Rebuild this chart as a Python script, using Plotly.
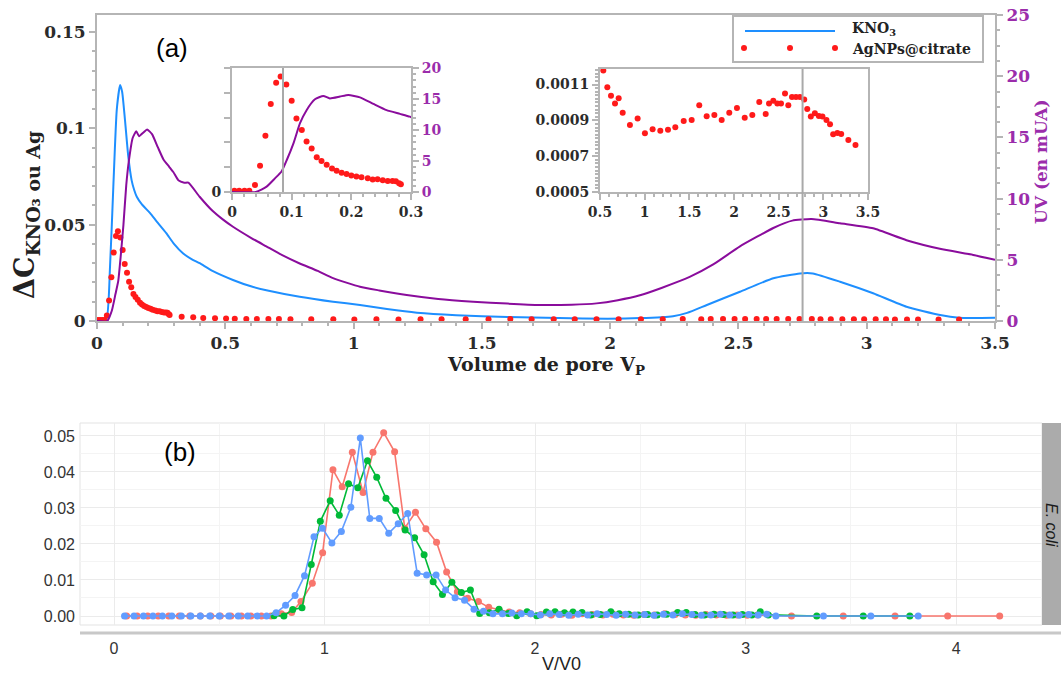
import plotly.graph_objects as go

# ---------------- panel (a): breakthrough curves ----------------
# KNO3 tracer, delta C vs pore volume
kno3_vp = [0, 0.035, 0.0507, 0.0636, 0.077, 0.090, 0.098, 0.109, 0.122, 0.135, 0.145,
           0.155, 0.175, 0.207, 0.233, 0.27, 0.30, 0.336, 0.37, 0.40, 0.45, 0.53, 0.60,
           0.66, 0.79, 0.92, 1.025, 1.13, 1.247, 1.40, 1.6, 1.8, 1.99, 2.116, 2.245,
           2.30, 2.377, 2.506, 2.636, 2.74, 2.79, 2.896, 3.025, 3.155, 3.286, 3.36, 3.5]
kno3_dc = [0, 0, 0.028, 0.0697, 0.1096, 0.1225, 0.119, 0.1044, 0.0853, 0.073, 0.068,
           0.0645, 0.0605, 0.056, 0.0516, 0.0456, 0.040, 0.035, 0.032, 0.030, 0.026,
           0.0213, 0.018, 0.016, 0.0126, 0.0100, 0.0083, 0.0062, 0.0043, 0.0030, 0.0021,
           0.0015, 0.0012, 0.0015, 0.0025, 0.0042, 0.0083, 0.0152, 0.0222, 0.0247,
           0.0247, 0.0204, 0.0144, 0.0074, 0.0031, 0.0017, 0.0017]

# UV absorbance (mUA)
uv_vp = [0, 0.04, 0.058, 0.072, 0.083, 0.092, 0.103, 0.114, 0.125, 0.139, 0.153, 0.164,
         0.181, 0.195, 0.2145, 0.237, 0.259, 0.2815, 0.298, 0.317, 0.34, 0.356, 0.40,
         0.45, 0.49, 0.53, 0.60, 0.66, 0.72, 0.79, 0.86, 0.92, 1.025, 1.10, 1.207, 1.33,
         1.466, 1.60, 1.726, 1.85, 1.947, 2.03, 2.116, 2.20, 2.31, 2.40, 2.506, 2.636,
         2.68, 2.71, 2.785, 2.896, 3.025, 3.155, 3.285, 3.415, 3.5]
uv_mua = [0, 0, 0.86, 2.2, 3.3, 5.2, 7.85, 11.1, 13.2, 14.95, 15.5, 15.1, 15.4, 15.65,
          15.27, 14.2, 13.2, 12.6, 12.15, 11.5, 11.3, 11.3, 10.15, 9.0, 8.3, 7.7, 6.8,
          6.1, 5.4, 4.7, 4.1, 3.5, 2.8, 2.5, 2.12, 1.8, 1.58, 1.42, 1.31, 1.33, 1.44,
          1.7, 2.1, 2.7, 3.6, 4.6, 6.1, 7.6, 8.0, 8.2, 8.33, 7.98, 7.57, 6.6, 5.9, 5.4,
          5.0]

# AgNPs@citrate, delta C vs pore volume
ag_vp = [0.004, 0.012, 0.021, 0.029, 0.0385, 0.047, 0.056, 0.065, 0.074, 0.0815, 0.091,
         0.100, 0.108, 0.117, 0.125, 0.1335, 0.142, 0.150, 0.1587, 0.1676, 0.1753,
         0.1837, 0.192, 0.200, 0.2085, 0.217, 0.2275, 0.2358, 0.244, 0.2526, 0.261,
         0.269, 0.2747, 0.280, 0.283, 0.33, 0.375, 0.414, 0.46, 0.503, 0.537, 0.582,
         0.623, 0.668, 0.709, 0.754, 0.835, 0.921, 1.003, 1.089, 1.175, 1.261, 1.343,
         1.437, 1.526, 1.611, 1.694, 1.780, 1.862, 1.947, 2.033, 2.12, 2.205, 2.283,
         2.355, 2.392, 2.44, 2.485, 2.526, 2.571, 2.608, 2.649, 2.694, 2.738, 2.786,
         2.82, 2.86, 2.905, 2.95, 2.99, 3.035, 3.075, 3.11, 3.157, 3.2, 3.28, 3.36]
ag_dc = [0.0005, 0.0005, 0.0005, 0.0005, 0.0028, 0.0106, 0.0227, 0.0355, 0.0441, 0.0466,
         0.0433, 0.0368, 0.0296, 0.0250, 0.0204, 0.0175, 0.0140, 0.0125, 0.0110, 0.0095,
         0.0086, 0.0078, 0.0073, 0.0067, 0.0063, 0.0059, 0.0055, 0.0050, 0.0051, 0.0047,
         0.0044, 0.0044, 0.0043, 0.0035, 0.0031, 0.0022, 0.0019, 0.0016, 0.0014, 0.0013,
         0.001178, 0.001085, 0.001038, 0.000995, 0.001023, 0.000943, 0.000874, 0.00091,
         0.000828, 0.00085, 0.000842, 0.000848, 0.000861, 0.000897, 0.000902, 0.000984,
         0.000923, 0.00093, 0.000902, 0.000943, 0.000969, 0.000915, 0.00093, 0.001003,
         0.000936, 0.000995, 0.00101, 0.000995, 0.000995, 0.00105, 0.000984, 0.00103,
         0.00103, 0.00103, 0.001016, 0.000964, 0.000921, 0.00094, 0.000925, 0.000921,
         0.000902, 0.000878, 0.000822, 0.00083, 0.000824, 0.00079, 0.000763]

marker_vp = 2.75        # vertical guide on the main panel
inset_marker_vp = 0.0855

# ---------------- panel (b): E. coli elution ----------------
red_x = [0.06, 0.11, 0.16, 0.21, 0.26, 0.31, 0.36, 0.41, 0.46, 0.505, 0.555, 0.605, 0.65,
         0.70, 0.746, 0.795, 0.844, 0.888, 0.942, 0.991, 1.04, 1.084, 1.132, 1.183, 1.23,
         1.281, 1.333, 1.381, 1.432, 1.481, 1.532, 1.58, 1.631, 1.68, 1.731, 1.78, 1.829,
         1.877, 1.927, 1.979, 2.028, 2.077, 2.126, 2.175, 2.224, 2.273, 2.322, 2.371,
         2.42, 2.469, 2.518, 2.567, 2.616, 2.665, 2.714, 2.763, 2.812, 2.861, 2.91,
         2.959, 3.008, 3.057, 3.218, 3.464, 3.71, 3.96, 4.207]
red_y = [0, 0, 0, 0, 0, 0, 0, 0, 0, 0, 0, 0, 0, 0, 0, 0.0006, 0.001, 0.004, 0.0091,
         0.0176, 0.0406, 0.0359, 0.0455, 0.0343, 0.0455, 0.0509, 0.0456, 0.0244, 0.0288,
         0.0242, 0.0205, 0.0122, 0.0067, 0.0049, 0.004, 0.0024, 0.0017, 0.0011, 0.0009,
         0.0006, 0.0004, 0.0003, 0.0005, 0.0002, 0.0006, 0.0004, 0.0003, 0.0005, 0.0003,
         0.0002, 0.0004, 0.0003, 0.0006, 0.0004, 0.0003, 0.0002, 0.0004, 0.0003, 0.0002,
         0.0003, 0.0002, 0.0003, 0, 0, 0, 0, 0]

green_x = [0.76, 0.807, 0.849, 0.893, 0.937, 0.98, 1.027, 1.07, 1.114, 1.158, 1.204,
           1.248, 1.292, 1.338, 1.383, 1.428, 1.473, 1.516, 1.56, 1.605, 1.65, 1.693,
           1.737, 1.783, 1.829, 1.873, 1.913, 1.962, 2.008, 2.054, 2.095, 2.14, 2.18,
           2.223, 2.265, 2.31, 2.36, 2.40, 2.445, 2.49, 2.535, 2.58, 2.625, 2.677, 2.718,
           2.76, 2.805, 2.85, 2.895, 2.94, 2.985, 3.03, 3.07, 3.108, 3.338, 3.559, 3.78]
green_y = [0.0001, 0, 0.0018, 0.0023, 0.0143, 0.0263, 0.032, 0.028, 0.0367, 0.0356,
           0.0431, 0.0385, 0.0327, 0.0293, 0.0239, 0.0217, 0.017, 0.0095, 0.006, 0.0094,
           0.0065, 0.0072, 0.0007, 0.0009, 0.0019, 0.0007, 0.0001, 0.0012, 0.0001, 0.0011,
           0.0012, 0.0009, 0.0011, 0.0010, 0.0003, 0.0004, 0.0012, 0.0006, 0.0005, 0.0003,
           0.0004, 0.0003, 0.0005, 0.0010, 0.0010, 0.0004, 0.0003, 0.0005, 0.0004, 0.0003,
           0.0004, 0.0003, 0.0012, 0.0003, 0, 0, 0]

blue_x = [0.05, 0.095, 0.14, 0.185, 0.23, 0.275, 0.32, 0.365, 0.41, 0.455, 0.50, 0.545,
          0.59, 0.635, 0.68, 0.725, 0.77, 0.815, 0.86, 0.905, 0.95, 0.99, 1.035, 1.08,
          1.125, 1.17, 1.215, 1.26, 1.305, 1.35, 1.395, 1.44, 1.485, 1.53, 1.575, 1.62,
          1.665, 1.71, 1.755, 1.80, 1.845, 1.89, 1.935, 1.98, 2.025, 2.07, 2.115, 2.16,
          2.205, 2.25, 2.295, 2.34, 2.385, 2.43, 2.475, 2.52, 2.565, 2.61, 2.655, 2.70,
          2.745, 2.79, 2.835, 2.88, 2.925, 2.97, 3.015, 3.06, 3.10, 3.144, 3.37, 3.595,
          3.82]
blue_y = [0, 0, 0, 0, 0, 0, 0, 0, 0, 0, 0, 0, 0, 0, 0, 0, 0.0009, 0.003, 0.0057, 0.0112,
          0.022, 0.0244, 0.0203, 0.0235, 0.0302, 0.0494, 0.0271, 0.0271, 0.023, 0.0256,
          0.0285, 0.0119, 0.0114, 0.0114, 0.0072, 0.0051, 0.0044, 0.0019, 0.0013, 0.0006,
          0.0006, 0.0008, 0.0006, 0.0006, 0.0003, 0.0006, 0.0004, 0.0002, 0.0005, 0.0003,
          0.0006, 0.0004, 0.0002, 0.0005, 0.0003, 0.0004, 0.0002, 0.0005, 0.0003, 0.0006,
          0.0004, 0.0002, 0.0003, 0.0005, 0.0003, 0.0002, 0.0004, 0.0003, 0.0005, 0, 0, 0,
          0]

# ---------------- styling ----------------
W, H = 1061, 678


def fx(p):
    return p / W


def fy(p):
    return 1 - p / H


BLUE = "#1e8fff"
PURPLE = "#8a0c9c"
PURPLE_TXT = "#9b2cab"
RED = "#ff1a1a"
GRAY = "#b5b5b5"
SERIF = "DejaVu Serif"
SANS = "Liberation Sans, Arial, sans-serif"

fig = go.Figure()

# main panel
fig.add_trace(go.Scatter(x=kno3_vp, y=kno3_dc, mode="lines", name="KNO3",
                         line=dict(color=BLUE, width=2, shape="spline", smoothing=0.5),
                         xaxis="x", yaxis="y", cliponaxis=False))
fig.add_trace(go.Scatter(x=ag_vp, y=ag_dc, mode="markers", name="AgNPs@citrate",
                         marker=dict(color=RED, size=6),
                         xaxis="x", yaxis="y", cliponaxis=False))
fig.add_trace(go.Scatter(x=uv_vp, y=uv_mua, mode="lines", name="UV",
                         line=dict(color=PURPLE, width=2, shape="spline", smoothing=0.5),
                         xaxis="x", yaxis="y2", cliponaxis=False))

# inset 1: early breakthrough
fig.add_trace(go.Scatter(x=uv_vp, y=uv_mua, mode="lines",
                         line=dict(color=PURPLE, width=2, shape="spline", smoothing=0.5),
                         xaxis="x2", yaxis="y4"))
fig.add_trace(go.Scatter(x=ag_vp, y=ag_dc, mode="markers",
                         marker=dict(color=RED, size=6), xaxis="x2", yaxis="y3"))

# inset 2: tail of the AgNPs curve
fig.add_trace(go.Scatter(x=ag_vp, y=ag_dc, mode="markers",
                         marker=dict(color=RED, size=6), xaxis="x3", yaxis="y5"))

# panel (b)
for xs, ys, col in [(red_x, red_y, "#F8766D"), (green_x, green_y, "#00BA38"),
                    (blue_x, blue_y, "#619CFF")]:
    fig.add_trace(go.Scatter(x=xs, y=ys, mode="lines+markers",
                             line=dict(color=col, width=1.6),
                             marker=dict(color=col, size=7),
                             xaxis="x4", yaxis="y6"))

serif_font = dict(family=SERIF, size=17, color="#2b2b2b", weight="bold")
serif_purple = dict(family=SERIF, size=17, color=PURPLE_TXT, weight="bold")
frame = dict(showline=True, linecolor=GRAY, linewidth=2, showgrid=False,
             zeroline=False, ticks="outside", tickcolor=GRAY, tickwidth=2, ticklen=6)


def minor(dt, length=3):
    return dict(dtick=dt, ticks="outside", ticklen=length, tickcolor=GRAY, tickwidth=1.5)


fig.update_layout(
    width=W, height=H, margin=dict(l=0, r=0, t=0, b=0, autoexpand=False),
    paper_bgcolor="white", plot_bgcolor="white", showlegend=False,
    xaxis=dict(domain=[fx(97), fx(995)], range=[0, 3.5], anchor="y", mirror=True,
               dtick=0.5, minor=minor(0.1), tickfont=serif_font, **frame),
    yaxis=dict(domain=[fy(321), fy(15)], range=[0, 0.15882], anchor="x",
               dtick=0.05, minor=minor(0.01), tickfont=serif_font, **frame),
    yaxis2=dict(overlaying="y", side="right", anchor="x", range=[0, 25], dtick=5,
                minor=minor(1.25), tickfont=serif_purple, **frame),
    xaxis2=dict(domain=[fx(232), fx(411)], range=[0, 0.3], anchor="y3", mirror=True,
                dtick=0.1, minor=minor(0.02), tickfont=dict(serif_font, size=14), **frame),
    yaxis3=dict(domain=[fy(192), fy(68)], range=[0, 0.05], anchor="x2",
                tickvals=[0], minor=minor(0.01, 6),
                tickfont=dict(serif_font, size=14), **frame),
    yaxis4=dict(overlaying="y3", side="right", anchor="x2", range=[0, 20], dtick=5,
                minor=minor(1), tickfont=dict(serif_purple, size=14), **frame),
    xaxis3=dict(domain=[fx(600), fx(868)], range=[0.5, 3.5], anchor="y5", mirror=True,
                dtick=0.5, minor=minor(0.1), tickfont=dict(serif_font, size=14), **frame),
    yaxis5=dict(domain=[fy(192), fy(69)], range=[0.0005, 0.001187], anchor="x3",
                mirror=True, tickvals=[0.0005, 0.0007, 0.0009, 0.0011], tickformat=".4f",
                minor=minor(0.00002), tickfont=dict(serif_font, size=14), **frame),
    xaxis4=dict(domain=[fx(80), fx(1042)], range=[-0.1615, 4.408], anchor="y6",
                dtick=1, showgrid=True, gridcolor="#ebebeb", gridwidth=1, zeroline=False,
                showline=False, ticks="", ticklabelstandoff=12,
                minor=dict(dtick=0.5, showgrid=True, gridcolor="#f4f4f4", gridwidth=1),
                tickfont=dict(family=SANS, size=16, color="#333333")),
    yaxis6=dict(domain=[fy(625), fy(423)], range=[-0.0025, 0.0536], anchor="x4",
                dtick=0.01, tickformat=".2f", showgrid=True, gridcolor="#ebebeb",
                gridwidth=1, zeroline=False, showline=False, ticks="",
                ticklabelstandoff=4,
                minor=dict(dtick=0.005, showgrid=True, gridcolor="#f4f4f4", gridwidth=1),
                tickfont=dict(family=SANS, size=16, color="#333333")),
)

shapes = [
    # vertical guide through the main panel up to the inset
    dict(type="line", xref="x", yref="paper", x0=marker_vp, x1=marker_vp,
         y0=fy(321), y1=fy(69), line=dict(color="#a9a9a9", width=2)),
    dict(type="line", xref="x2", yref="y3 domain", x0=inset_marker_vp,
         x1=inset_marker_vp, y0=0, y1=1, line=dict(color="#a9a9a9", width=2)),
    # legend box
    dict(type="rect", xref="paper", yref="paper", x0=fx(733), x1=fx(983), y0=fy(62),
         y1=fy(16), fillcolor="white", line=dict(color=GRAY, width=2)),
    dict(type="line", xref="paper", yref="paper", x0=fx(745), x1=fx(835), y0=fy(31),
         y1=fy(31), line=dict(color=BLUE, width=2)),
    # panel (b) frame, label box, axis bar and facet strip
    dict(type="rect", xref="paper", yref="paper", x0=fx(80), x1=fx(1042), y0=fy(625),
         y1=fy(423), line=dict(color="#e3e3e3", width=1), layer="below"),
    dict(type="rect", xref="paper", yref="paper", x0=fx(140), x1=fx(225), y0=fy(480),
         y1=fy(424), fillcolor="white", line=dict(width=0), layer="between"),
    dict(type="line", xref="paper", yref="paper", x0=fx(80), x1=1, y0=fy(633),
         y1=fy(633), line=dict(color="#c8c8c8", width=3)),
    dict(type="rect", xref="paper", yref="paper", x0=fx(1042), x1=1, y0=fy(625),
         y1=fy(423), fillcolor="#ababab", line=dict(width=0)),
]
for cx in (744, 790, 835):
    shapes.append(dict(type="circle", xref="paper", yref="paper", x0=fx(cx - 3),
                       x1=fx(cx + 3), y0=fy(51), y1=fy(45), fillcolor=RED,
                       line=dict(width=0)))
fig.update_layout(shapes=shapes)

ann = [
    dict(text="Volume de pore V<sub>P</sub>", x=fx(546), y=fy(366),
         font=dict(family=SERIF, size=19, color="#222", weight="bold")),
    dict(text="ΔC<sub>KNO₃ ou Ag</sub>", x=fx(27), y=fy(215), textangle=-90,
         font=dict(family=SERIF, size=27, color="#222", weight="bold")),
    dict(text="UV (en mUA)", x=fx(1041), y=fy(162), textangle=-90,
         font=dict(family=SERIF, size=17, color=PURPLE_TXT, weight="bold")),
    dict(text="(a)", x=fx(172), y=fy(48), font=dict(family=SANS, size=26, color="black")),
    dict(text="(b)", x=fx(180), y=fy(452), font=dict(family=SANS, size=26, color="black")),
    dict(text="V/V0", x=fx(561), y=fy(664), font=dict(family=SANS, size=18, color="#222")),
    dict(text="<i>E. coli</i>", x=fx(1052), y=fy(525), textangle=90,
         font=dict(family=SANS, size=16, color="#1a1a1a")),
    dict(text="KNO<sub>3</sub>", x=fx(850), y=fy(29), xanchor="left",
         font=dict(family=SERIF, size=14, color="#222", weight="bold")),
    dict(text="AgNPs@citrate", x=fx(850), y=fy(49), xanchor="left",
         font=dict(family=SERIF, size=14, color="#222", weight="bold")),
]
for a in ann:
    a.setdefault("xanchor", "center")
    a.update(xref="paper", yref="paper", showarrow=False, yanchor="middle")
fig.update_layout(annotations=ann)

# the page body gets no default margin so the figure sits at the window origin
fig.write_html("out.html", post_script="document.body.style.margin='0px';")
